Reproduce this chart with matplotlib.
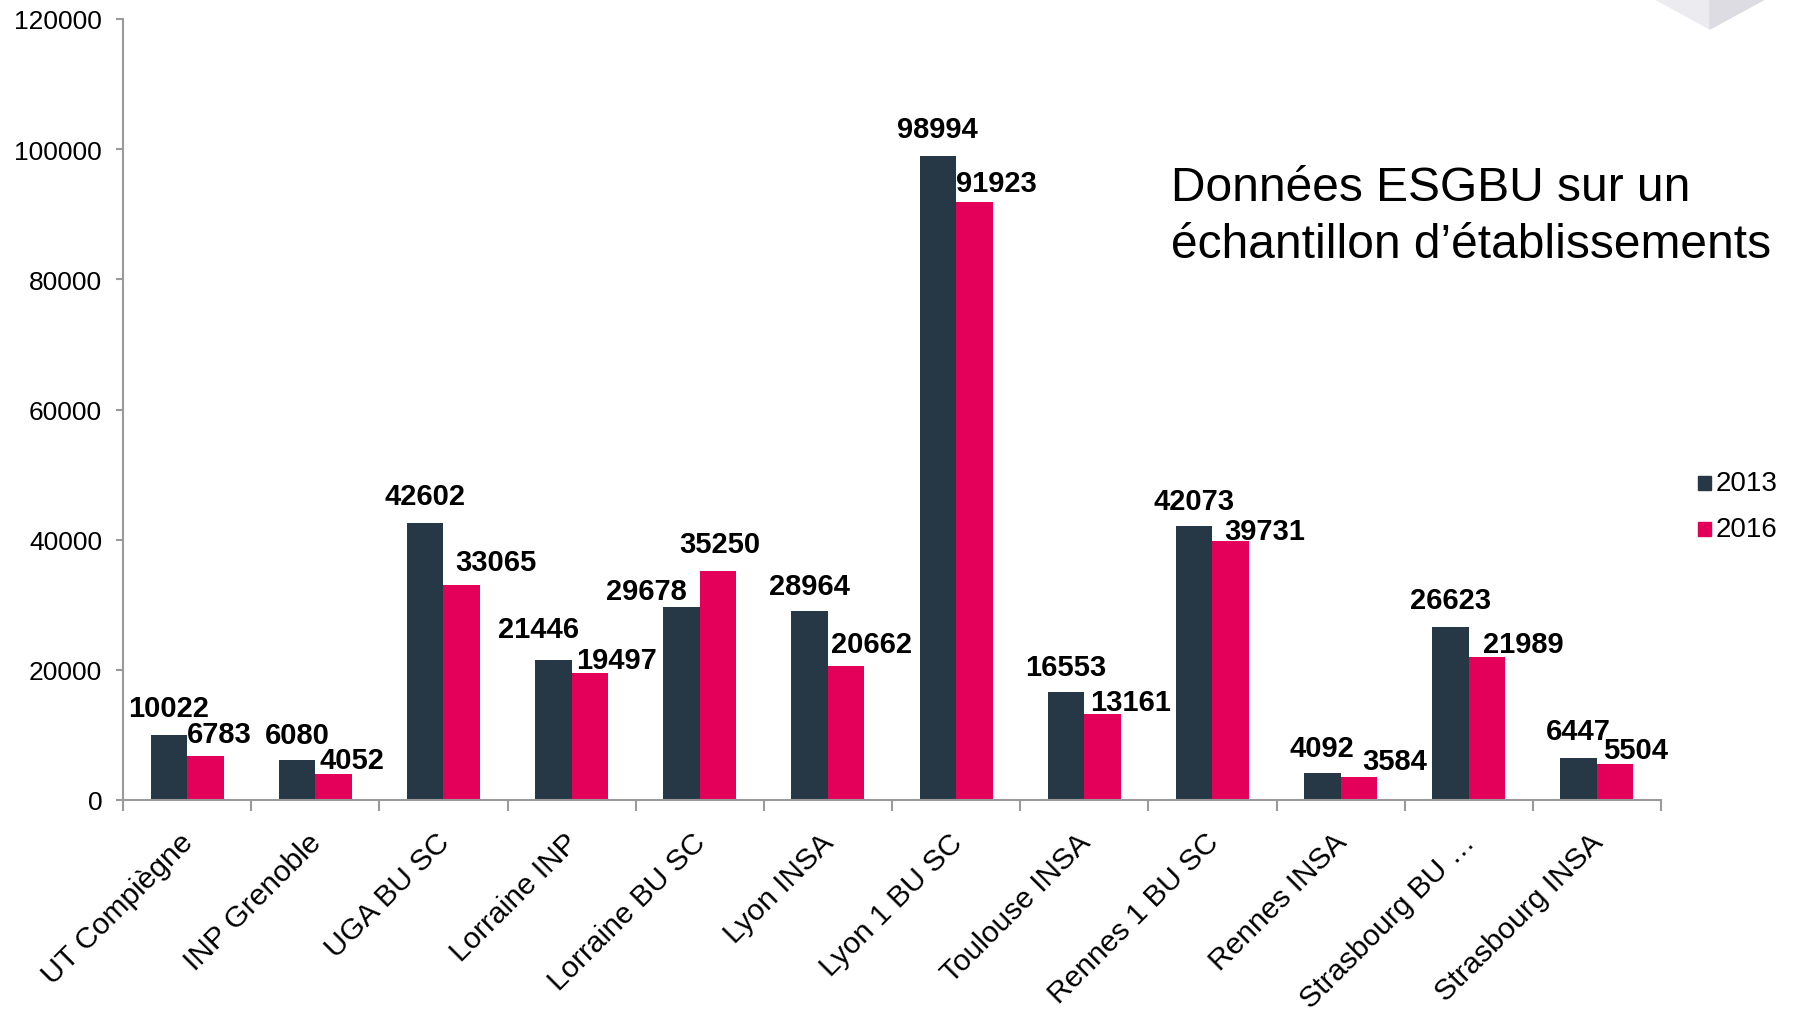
import numpy as np
import matplotlib
matplotlib.use("Agg")
import matplotlib.pyplot as plt
import matplotlib.transforms as mtransforms
from matplotlib.patches import Polygon, Rectangle

categories = ["UT Compiègne", "INP Grenoble", "UGA BU SC", "Lorraine INP", "Lorraine BU SC",
              "Lyon INSA", "Lyon 1 BU SC", "Toulouse INSA", "Rennes 1 BU SC", "Rennes INSA",
              "Strasbourg BU …", "Strasbourg INSA"]
values_2013 = [10022, 6080, 42602, 21446, 29678, 28964, 98994, 16553, 42073, 4092, 26623, 6447]
values_2016 = [6783, 4052, 33065, 19497, 35250, 20662, 91923, 13161, 39731, 3584, 21989, 5504]
series_names = ["2013", "2016"]
yticks = [0, 20000, 40000, 60000, 80000, 100000, 120000]
title_text = "Données ESGBU sur un\néchantillon d’établissements"

# label centre offsets in pixels (dx, dy) from the top-centre of each bar
off_2013 = [(0, 29), (0, 28), (0, 29), (-15, 34), (-35, 18), (0, 28), (0, 29), (0, 28), (0, 28), (0, 28), (0, 29), (0, 29)]
off_2016 = [(14, 24), (18, 16), (34, 25), (27, 16), (2, 29), (25, 24), (22, 21), (28, 15), (34, 13), (36, 18), (36, 15), (20, 17)]

W, H = 1793, 1012
c13 = "#263746"
c16 = "#E4005A"
gray = "#9a9a9a"
FONT = "Liberation Sans"
plt.rcParams['font.family'] = [FONT, 'DejaVu Sans']

fig = plt.figure(figsize=(W / 100, H / 100), dpi=100)
fig.patch.set_facecolor("white")
ax = fig.add_axes([123 / W, 1 - 801 / H, (1661 - 123) / W, (801 - 20) / H])

x = np.arange(len(categories))
bw = 0.285
ax.bar(x - bw / 2, values_2013, bw, color=c13, zorder=2)
ax.bar(x + bw / 2, values_2016, bw, color=c16, zorder=2)

lab_fs = 21
half_digit = 0.716 * lab_fs * 100 / 72 / 2
for i in range(len(categories)):
    for vals, offs, xc in ((values_2013, off_2013, x[i] - bw / 2), (values_2016, off_2016, x[i] + bw / 2)):
        dx, dy = offs[i]
        ax.annotate(str(vals[i]), xy=(xc, vals[i]), xytext=(dx, dy - half_digit),
                    textcoords="offset pixels", ha="center", va="baseline",
                    fontsize=lab_fs, fontweight="bold", color="black", annotation_clip=False)

ax.set_xlim(-0.5, len(categories) - 0.5)
ax.set_ylim(0, 120000)
ax.set_yticks(yticks)
ax.set_yticklabels([str(v) for v in yticks], fontsize=19)
ax.set_xticks(np.arange(len(categories) + 1) - 0.5)
ax.set_xticklabels([])
ax.set_xticks(x, minor=True)
ax.set_xticklabels(categories, minor=True, rotation=45, ha="right", va="top",
                   rotation_mode="anchor", fontsize=21.5)
ax.tick_params(axis="x", which="major", length=8, width=1.5, color=gray, direction="out")
ax.tick_params(axis="x", which="minor", length=0, pad=20)
ax.tick_params(axis="y", length=5, width=1.5, color=gray, pad=10)

shift = mtransforms.ScaledTranslation(-8 / 100, 0, fig.dpi_scale_trans)
for lbl in ax.get_xticklabels(minor=True):
    lbl.set_transform(lbl.get_transform() + shift)

for s in ("top", "right"):
    ax.spines[s].set_visible(False)
for s in ("left", "bottom"):
    ax.spines[s].set_color(gray)
    ax.spines[s].set_linewidth(1.5)

# title text
fig.text(1171 / W, 1 - 217 / H, title_text, ha="left", va="center", fontsize=34.5,
         linespacing=1.37, color="black")

# legend (manual)
leg_y = [484, 530]
leg_c = [c13, c16]
for name, yy, cc in zip(series_names, leg_y, leg_c):
    fig.patches.append(Rectangle((1698 / W, 1 - (yy + 7) / H), 13 / W, 14 / H,
                                 transform=fig.transFigure, color=cc, figure=fig))
    fig.text(1716 / W, 1 - yy / H, name, ha="left", va="center", fontsize=20, color="black")

# decorative corner shape
def fp(px, py):
    return (px / W, 1 - py / H)

fig.patches.append(Polygon([fp(1655, 0), fp(1710, 30), fp(1710, 0)], closed=True,
                           transform=fig.transFigure, color="#ececf0", figure=fig))
fig.patches.append(Polygon([fp(1710, 0), fp(1710, 30), fp(1765, 0)], closed=True,
                           transform=fig.transFigure, color="#dcdce2", figure=fig))

fig.savefig("out.png", dpi=100)
